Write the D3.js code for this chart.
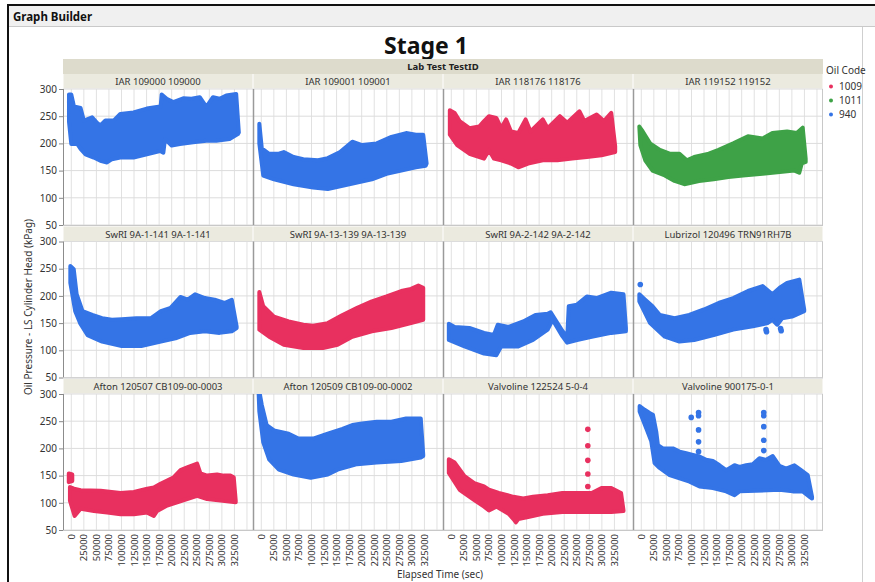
<!DOCTYPE html>
<html>
<head>
<meta charset="utf-8">
<script src="https://cdn.jsdelivr.net/npm/d3@7"></script>
<style>
  body { margin: 0; background: #fff; }
  text { font-family: "Noto Sans", "Open Sans", sans-serif; }
</style>
</head>
<body>
<svg id="chart" width="875" height="582"></svg>
<script>
// ---- data ----
const panelNames = [
  "IAR 109000 109000", "IAR 109001 109001", "IAR 118176 118176", "IAR 119152 119152",
  "SwRI 9A-1-141 9A-1-141", "SwRI 9A-13-139 9A-13-139", "SwRI 9A-2-142 9A-2-142", "Lubrizol 120496 TRN91RH7B",
  "Afton 120507 CB109-00-0003", "Afton 120509 CB109-00-0002", "Valvoline 122524 5-0-4", "Valvoline 900175-0-1"
];
const panelCodes = ["940", "940", "1009", "1011", "940", "1009", "940", "940", "1009", "940", "1009", "940"];
const oilCodes = ["1009", "1011", "940"];
const timeTicks = [0, 25000, 50000, 75000, 100000, 125000, 150000, 175000, 200000, 225000, 250000, 275000, 300000, 325000];
const timeGrid = [0, 25000, 50000, 75000, 100000, 125000, 150000, 175000, 200000, 225000, 250000, 275000, 300000, 325000, 350000];
const pressureTicks = [50, 100, 150, 200, 250, 300];

// upper / lower edges of each point cloud: [elapsed sec, kPag]
const iar109000Top = [[-4600,290],[0,290],[5300,268],[18500,265],[25000,242],[41500,248],[50100,239],[58000,233],[68000,242],[84400,242],[97600,254],[124000,257],[150400,264],[170200,267],[178000,268],[180100,290],[190000,282],[203200,276],[223000,283],[239500,282],[255900,285],[269100,267],[282300,285],[295500,282],[308700,288],[328500,291],[333800,220]];
const iar109000Bot = [[-4600,240],[0,199],[11900,199],[18500,190],[28400,180],[44800,174],[58000,168],[71200,165],[81100,171],[97600,174],[124000,174],[150400,180],[176800,186],[183400,183],[186700,208],[199900,196],[216400,199],[242700,202],[269100,205],[288900,205],[315300,208],[331800,217],[333800,220]];

const iar109001Top = [[-3900,236],[1000,191],[15600,181],[35100,181],[44800,184],[64300,175],[83800,171],[113100,169],[132500,173],[156900,184],[181300,203],[200800,197],[230000,200],[259300,212],[288500,219],[308000,216],[322600,216],[329400,163]];
const iar109001Bot = [[-3900,200],[3900,141],[25300,134],[64300,125],[103300,119],[132500,116],[161800,122],[191000,128],[220300,134],[249500,144],[278800,150],[308000,156],[327500,159],[329400,163]];

const iar118176Top = [[-2900,261],[6800,256],[16600,241],[36100,228],[55600,231],[65300,241],[75000,250],[89700,247],[99400,228],[109200,244],[118900,222],[133500,219],[148100,244],[157900,222],[182300,244],[192000,228],[216400,250],[231000,238],[255400,259],[265100,241],[289500,253],[304100,241],[318700,256],[326500,195]];
const iar118176Bot = [[-2900,216],[11700,197],[36100,181],[65300,172],[75000,188],[84800,172],[99400,169],[118900,163],[133500,156],[153000,163],[182300,169],[211500,169],[240700,172],[270000,175],[299200,178],[326500,184]];

const iar119152Top = [[-3900,231],[2900,222],[17500,200],[37000,188],[56500,181],[76000,181],[90600,169],[105300,175],[134500,181],[154000,188],[183200,200],[212500,213],[241700,209],[261200,219],[290400,222],[309900,219],[321600,229],[327500,172]];
const iar119152Bot = [[-1900,197],[7800,169],[22400,150],[46800,141],[66300,131],[85800,125],[115000,131],[144200,134],[173500,138],[202700,141],[241700,144],[280700,148],[305100,150],[314800,146],[319700,163],[327500,166]];

const swri141Top = [[-1900,255],[4900,249],[10700,203],[22400,172],[41900,165],[61400,159],[80900,156],[100400,157],[129600,159],[158900,159],[178400,172],[197900,178],[217300,198],[232000,193],[246600,203],[266100,196],[285600,193],[305100,187],[319700,193],[329400,144]];
const swri141Bot = [[-1900,224],[7800,172],[17500,150],[32200,128],[61400,116],[100400,108],[139400,108],[178400,116],[207600,122],[236800,132],[266100,135],[295300,132],[319700,135],[329400,141]];

const swri139Top = [[-3900,207],[3900,181],[25300,162],[54600,153],[83800,147],[103300,145],[132500,150],[161800,165],[191000,178],[220300,190],[249500,199],[278800,209],[298200,213],[312900,219],[322600,215]];
const swri139Bot = [[-3900,138],[15600,125],[44800,110],[83800,104],[122800,104],[152000,110],[181300,125],[220300,135],[259300,141],[298200,150],[322600,156]];

const swri142Top = [[-4900,149],[6800,143],[36100,141],[65300,132],[84800,128],[92600,147],[114000,143],[143300,153],[167600,165],[192000,167],[198000,170],[221200,136],[231000,124],[234000,181],[250500,184],[270000,199],[289500,196],[318700,206],[343100,203],[347900,141]];
const swri142Bot = [[-4900,119],[26300,107],[65300,94],[89700,91],[99400,107],[133500,107],[162800,119],[192000,138],[201800,156],[221200,126],[231000,114],[250500,119],[279700,125],[318700,132],[347900,135]];

const lubrizolTop = [[-3900,203],[7800,193],[22400,181],[37000,165],[66300,159],[95500,165],[124800,175],[154000,187],[183200,196],[212500,209],[241700,218],[261200,203],[275800,215],[290400,224],[314800,230],[324600,175]];
const lubrizolBot = [[-3900,190],[17500,150],[46800,125],[76000,116],[105300,119],[144200,128],[183200,138],[222200,144],[251500,150],[261200,156],[270900,147],[280700,159],[300200,162],[324600,172]];
const lubrizolOut = [[-2000,221],[248500,138],[249500,134],[277500,140],[278700,136]];

const afton0003Top = [[-2700,129],[5300,126],[18600,123],[58400,122],[98100,118],[124700,120],[151200,126],[164500,128],[177700,135],[191000,141],[204200,147],[217500,160],[230800,165],[250700,172],[257300,154],[270600,150],[290500,152],[303700,150],[317000,150],[323600,147],[327600,104]];
const afton0003Bot = [[-2700,104],[6600,76],[18600,89],[45100,85],[71600,82],[98100,79],[124700,79],[151200,82],[164500,76],[171100,85],[191000,95],[210900,101],[230800,107],[250700,113],[270600,107],[297100,104],[327600,101]];
const afton0003StartTop = [[-5000,154],[2000,152]];
const afton0003StartBot = [[-5000,138],[2000,140]];

const afton0002Top = [[-5800,315],[1000,280],[10700,243],[25300,233],[54600,227],[74100,218],[103300,218],[132500,227],[161800,236],[181300,243],[200800,246],[230000,249],[259300,249],[288500,255],[317700,255],[322600,189]];
const afton0002Bot = [[-3900,268],[3900,211],[15600,180],[35100,161],[64300,152],[98400,146],[132500,152],[152000,161],[191000,171],[230000,174],[278800,177],[317700,183],[322600,186]];

const valv504Top = [[-4900,180],[6800,174],[26300,149],[45800,136],[65300,130],[75000,124],[94600,118],[123800,111],[143300,108],[162800,111],[192000,114],[221200,118],[279700,118],[299200,127],[318700,127],[338200,118],[343100,86]];
const valv504Bot = [[-4900,155],[16600,124],[45800,105],[65300,93],[75000,86],[89700,93],[114000,80],[123800,70],[128700,64],[133500,70],[153000,74],[182300,80],[221200,83],[318700,83],[343100,85]];
const valv504Out = [[272000,235],[272000,205],[272000,178],[272000,153],[272000,130]];

const valv01Top = [[-3300,278],[6600,271],[16600,265],[23200,262],[29800,231],[33200,206],[43100,200],[63000,200],[76300,194],[89500,191],[102800,188],[116000,185],[129300,179],[142600,177],[155800,169],[169100,160],[185700,169],[195600,166],[208900,169],[222100,171],[235400,182],[248700,179],[261900,186],[275200,168],[288500,163],[305000,169],[318300,160],[331600,151],[340200,111]];
const valv01Bot = [[-3300,268],[9900,237],[19900,213],[26500,173],[36500,164],[56400,151],[76300,145],[96200,139],[116000,130],[142600,127],[169100,121],[185700,114],[195600,121],[275200,124],[301700,121],[321600,121],[334900,111],[340200,108]];
const valv01Out = [[99500,257],[114100,266],[114100,260],[114100,234],[114100,212],[114100,194],[244000,266],[244000,260],[244000,240],[244000,215],[244000,196]];

// bands per panel (a panel may have more than one cloud)
const panelBands = [
  [[iar109000Top, iar109000Bot]],
  [[iar109001Top, iar109001Bot]],
  [[iar118176Top, iar118176Bot]],
  [[iar119152Top, iar119152Bot]],
  [[swri141Top, swri141Bot]],
  [[swri139Top, swri139Bot]],
  [[swri142Top, swri142Bot]],
  [[lubrizolTop, lubrizolBot]],
  [[afton0003Top, afton0003Bot], [afton0003StartTop, afton0003StartBot]],
  [[afton0002Top, afton0002Bot]],
  [[valv504Top, valv504Bot]],
  [[valv01Top, valv01Bot]]
];
const panelOutliers = [[], [], [], [], [], [], [], lubrizolOut, [], [], valv504Out, valv01Out];

// ---- layout ----
const color = d3.scaleOrdinal().domain(oilCodes).range(["#e8305f", "#3ea247", "#3474e6"]);
const svg = d3.select("#chart");
const left = 63, colW = 190, plotH = 136, headH = 15, rowStep = 152.5, firstTop = 89;

const x = d3.scaleLinear().domain([-16500, 362000]).range([0, colW]);
const y = d3.scaleLinear().domain([50, 300]).range([plotH, 0]);

// window frame
svg.append("rect").attr("x", 9).attr("y", 6).attr("width", 866).attr("height", 20).attr("fill", "#f0f0f0");
svg.append("line").attr("x1", 9).attr("x2", 875).attr("y1", 26.5).attr("y2", 26.5).attr("stroke", "#c9c9c9");
svg.append("line").attr("x1", 8).attr("x2", 875).attr("y1", 5).attr("y2", 5).attr("stroke", "#111").attr("stroke-width", 2);
svg.append("line").attr("x1", 8).attr("x2", 8).attr("y1", 4).attr("y2", 582).attr("stroke", "#111").attr("stroke-width", 2);
svg.append("line").attr("x1", 862.5).attr("x2", 862.5).attr("y1", 27).attr("y2", 582).attr("stroke", "#cfcfcf");
svg.append("text").attr("x", 13).attr("y", 21).attr("font-size", 11.5).attr("font-weight", "bold").attr("fill", "#111").text("Graph Builder");

svg.append("text").attr("x", 426).attr("y", 54).attr("text-anchor", "middle")
  .attr("font-size", 23).attr("font-weight", "bold").attr("fill", "#111").text("Stage 1");

// group header
svg.append("rect").attr("x", left).attr("y", 59).attr("width", colW * 4).attr("height", 15).attr("fill", "#dddbcc");
svg.append("text").attr("x", left + colW * 2).attr("y", 70).attr("text-anchor", "middle")
  .attr("font-size", 9.5).attr("font-weight", "bold").attr("fill", "#222").text("Lab Test TestID");

const polygon = d3.line().x(d => x(d[0])).y(d => y(d[1]));

panelNames.forEach((name, i) => {
  const col = i % 4, row = Math.floor(i / 4);
  const gx = left + col * colW, gy = firstTop + row * rowStep;

  // header
  svg.append("rect").attr("x", gx + 0.5).attr("y", gy - headH).attr("width", colW - 1).attr("height", headH - 0.5).attr("fill", "#ebeadf");
  svg.append("text").attr("x", gx + colW / 2).attr("y", gy - 4).attr("text-anchor", "middle")
    .attr("font-size", 9.5).attr("fill", "#333").text(name);

  const g = svg.append("g").attr("transform", `translate(${gx},${gy})`);

  // grid
  g.selectAll(".vg").data(timeGrid).join("line")
    .attr("x1", d => x(d)).attr("x2", d => x(d)).attr("y1", 0).attr("y2", plotH)
    .attr("stroke", "#e1e1e1");
  g.selectAll(".hg").data(pressureTicks).join("line")
    .attr("x1", 0).attr("x2", colW).attr("y1", d => y(d)).attr("y2", d => y(d))
    .attr("stroke", "#dcdcdc");

  g.append("clipPath").attr("id", `clip${i}`).append("rect").attr("width", colW).attr("height", plotH);
  const marks = g.append("g").attr("clip-path", `url(#clip${i})`);
  const c = color(panelCodes[i]);

  panelBands[i].forEach(([top, bot]) => {
    const pts = top.concat(bot.slice().reverse());
    marks.append("path").attr("d", polygon(pts) + "Z")
      .attr("fill", c).attr("stroke", c).attr("stroke-width", 4)
      .attr("stroke-linejoin", "round");
  });
  marks.selectAll("circle").data(panelOutliers[i]).join("circle")
    .attr("cx", d => x(d[0])).attr("cy", d => y(d[1])).attr("r", 2.8).attr("fill", c);

  // frame
  g.append("line").attr("x1", 0.5).attr("x2", 0.5).attr("y1", 0).attr("y2", plotH)
    .attr("stroke", col === 0 ? "#8c8c8c" : "#9a9a9a").attr("stroke-width", col === 0 ? 1 : 1.5);
  g.append("line").attr("x1", 0).attr("x2", colW).attr("y1", plotH + 0.5).attr("y2", plotH + 0.5).attr("stroke", "#c8c8c8");
  if (col === 3) g.append("line").attr("x1", colW - 0.5).attr("x2", colW - 0.5).attr("y1", 0).attr("y2", plotH).attr("stroke", "#c8c8c8");

  if (col === 0) {
    g.append("g").call(d3.axisLeft(y).tickValues(pressureTicks).tickSize(4).tickPadding(2))
      .call(a => a.select(".domain").remove())
      .call(a => a.selectAll("line").attr("stroke", "#888"))
      .call(a => a.selectAll("text").attr("font-size", 10).attr("fill", "#333").attr("font-family", "Noto Sans"));
  }
  if (row === 2) {
    g.append("g").selectAll("text").data(timeTicks).join("text")
      .attr("transform", d => `translate(${x(d) + 3.5},${plotH + 4}) rotate(-90)`)
      .attr("text-anchor", "end").attr("font-size", 9.5).attr("fill", "#333").text(d => d);
  }
});

// axis titles
svg.append("text").attr("x", 440).attr("y", 578).attr("text-anchor", "middle")
  .attr("font-size", 10).attr("fill", "#333").text("Elapsed Time (sec)");
svg.append("text").attr("transform", "translate(32,307) rotate(-90)").attr("text-anchor", "middle")
  .attr("font-size", 10).attr("fill", "#333").text("Oil Pressure - LS Cylinder Head (kPag)");

// legend
const lg = svg.append("g").attr("transform", "translate(826,0)");
lg.append("text").attr("x", 0).attr("y", 74).attr("font-size", 10).attr("fill", "#333").text("Oil Code");
oilCodes.forEach((code, k) => {
  lg.append("circle").attr("cx", 5).attr("cy", 86.5 + k * 14).attr("r", 2).attr("fill", color(code));
  lg.append("text").attr("x", 13).attr("y", 90 + k * 14).attr("font-size", 10).attr("fill", "#333").text(code);
});
</script>
</body>
</html>
